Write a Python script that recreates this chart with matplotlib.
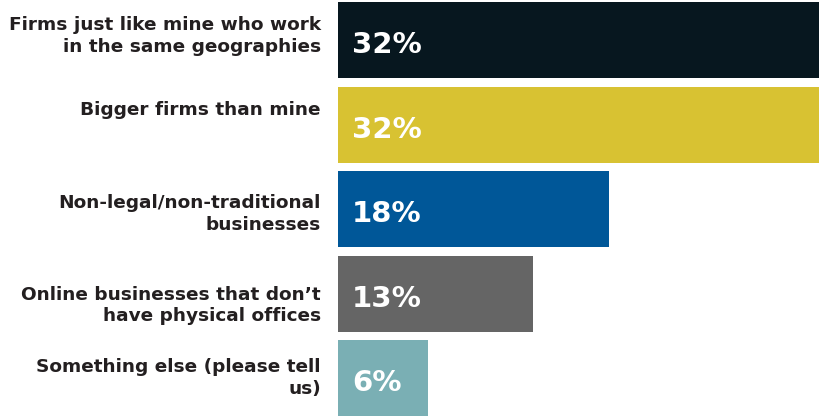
import matplotlib
matplotlib.use('Agg')
import matplotlib.pyplot as plt

# survey answers (percent of respondents)
categories = ['Firms just like mine who work\nin the same geographies',
              'Bigger firms than mine',
              'Non-legal/non-traditional\nbusinesses',
              'Online businesses that don\u2019t\nhave physical offices',
              'Something else (please tell\nus)']
values = [32, 32, 18, 13, 6]
value_labels = ['32%', '32%', '18%', '13%', '6%']
colors = ['#07171f', '#d8c232', '#005798', '#656565', '#7aafb4']

# vertical nudge (px) of each category label vs. bar centre
label_nudge = [-4, -15, 5, 12, 0]

plt.rcParams['font.family'] = ['DejaVu Sans']

fig = plt.figure(figsize=(8.19, 4.16), dpi=100)
ax = fig.add_axes([338 / 819, 0, 481 / 819, 1])

pos = list(range(len(values)))
ax.barh(pos, values, height=0.9, color=colors, align='center')
ax.set_xlim(0, 32)
ax.set_ylim(4.449, -0.474)
ax.axis('off')

px = 0.72  # points per pixel at 100 dpi
for i, (lab, v) in enumerate(zip(categories, value_labels)):
    ax.annotate(lab, xy=(0, i), xytext=(-17 * px, -label_nudge[i] * px),
                textcoords='offset points', ha='right', va='center',
                fontsize=13.3, fontweight='bold', color='#231f20',
                linespacing=1.27, annotation_clip=False)
    ax.annotate(v, xy=(0, i), xytext=(14 * px, -5 * px),
                textcoords='offset points', ha='left', va='center',
                fontsize=21, fontweight='bold', color='white')

fig.savefig('out.png', dpi=100)
